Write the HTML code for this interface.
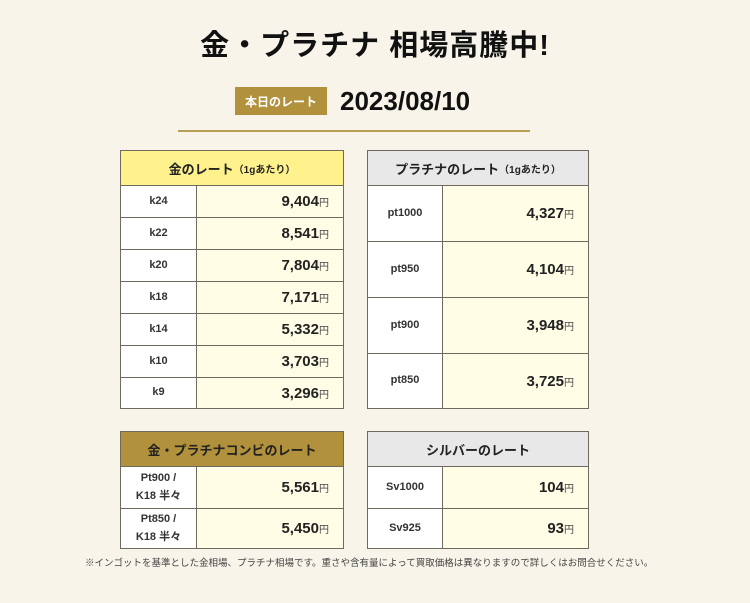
<!DOCTYPE html><html><head><meta charset="utf-8"><style>
*{margin:0;padding:0;box-sizing:border-box}
body{width:750px;height:603px;background:#f8f4e9;font-family:"Liberation Sans","Noto Sans CJK JP",sans-serif;position:relative;overflow:hidden;color:#222}
.t{position:absolute;border:1px solid #6e6a5e;background:#fff}
.h{display:flex;align-items:center;justify-content:center;font-weight:bold;font-size:13px;border-bottom:1px solid #6e6a5e}
.h small{font-size:10px;font-weight:bold}
.r{display:flex;border-bottom:1px solid #6e6a5e}
.r:last-child{border-bottom:none}
.l{display:flex;align-items:center;justify-content:center;border-right:1px solid #6e6a5e;background:#fff;font-size:11px;font-weight:bold;color:#333;text-align:center;line-height:1.6}
.v{flex:1;display:flex;align-items:center;justify-content:flex-end;padding-right:14px;background:#fffde6;font-size:15px;font-weight:bold;color:#222}
.v span{font-size:10px;font-weight:normal;color:#444}
</style></head><body>
<div style="position:absolute;left:0;width:750px;top:22px;text-align:center;font-size:29px;font-weight:bold;color:#111;letter-spacing:1px">金・プラチナ 相場高騰中!</div>
<div style="position:absolute;left:235px;top:87px;width:92px;height:28px;background:#b1913b;color:#fff;font-size:12px;font-weight:bold;display:flex;align-items:center;justify-content:center">本日のレート</div>
<div style="position:absolute;left:340px;top:86px;font-size:26px;font-weight:bold;color:#111;line-height:30px">2023/08/10</div>
<div style="position:absolute;left:178px;top:130px;width:352px;height:2px;background:#b99f55"></div>

<div class="t" style="left:120px;top:150px;width:224px">
<div class="h" style="height:35px;background:#fff28c">金のレート<small>（1gあたり）</small></div>
<div class="r" style="height:32px"><div class="l" style="width:76px">k24</div><div class="v">9,404<span>円</span></div></div>
<div class="r" style="height:32px"><div class="l" style="width:76px">k22</div><div class="v">8,541<span>円</span></div></div>
<div class="r" style="height:32px"><div class="l" style="width:76px">k20</div><div class="v">7,804<span>円</span></div></div>
<div class="r" style="height:32px"><div class="l" style="width:76px">k18</div><div class="v">7,171<span>円</span></div></div>
<div class="r" style="height:32px"><div class="l" style="width:76px">k14</div><div class="v">5,332<span>円</span></div></div>
<div class="r" style="height:32px"><div class="l" style="width:76px">k10</div><div class="v">3,703<span>円</span></div></div>
<div class="r" style="height:30px"><div class="l" style="width:76px">k9</div><div class="v">3,296<span>円</span></div></div>
</div>

<div class="t" style="left:367px;top:150px;width:222px">
<div class="h" style="height:35px;background:#e8e8e8">プラチナのレート<small>（1gあたり）</small></div>
<div class="r" style="height:56px"><div class="l" style="width:75px">pt1000</div><div class="v">4,327<span>円</span></div></div>
<div class="r" style="height:56px"><div class="l" style="width:75px">pt950</div><div class="v">4,104<span>円</span></div></div>
<div class="r" style="height:56px"><div class="l" style="width:75px">pt900</div><div class="v">3,948<span>円</span></div></div>
<div class="r" style="height:54px"><div class="l" style="width:75px">pt850</div><div class="v">3,725<span>円</span></div></div>
</div>

<div class="t" style="left:120px;top:431px;width:224px">
<div class="h" style="height:35px;background:#b1913b;color:#222">金・プラチナコンビのレート</div>
<div class="r" style="height:42px"><div class="l" style="width:76px">Pt900 /<br>K18 半々</div><div class="v">5,561<span>円</span></div></div>
<div class="r" style="height:39px"><div class="l" style="width:76px">Pt850 /<br>K18 半々</div><div class="v">5,450<span>円</span></div></div>
</div>

<div class="t" style="left:367px;top:431px;width:222px">
<div class="h" style="height:35px;background:#e8e8e8">シルバーのレート</div>
<div class="r" style="height:42px"><div class="l" style="width:75px">Sv1000</div><div class="v">104<span>円</span></div></div>
<div class="r" style="height:39px"><div class="l" style="width:75px">Sv925</div><div class="v">93<span>円</span></div></div>
</div>

<div style="position:absolute;left:85px;top:555px;font-size:9.5px;color:#444;white-space:nowrap">※インゴットを基準とした金相場、プラチナ相場です。重さや含有量によって買取価格は異なりますので詳しくはお問合せください。</div>
</body></html>
